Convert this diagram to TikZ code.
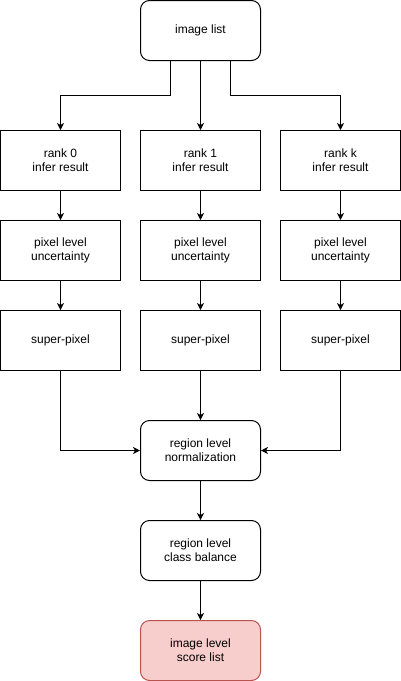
\documentclass[tikz,border=0pt]{standalone}
\usepackage{fontspec}
\setmainfont{Liberation Sans}
\usetikzlibrary{arrows.meta}
\definecolor{redfill}{HTML}{F8CECC}
\definecolor{redline}{HTML}{B85450}
\begin{document}
\begin{tikzpicture}[x=1pt,y=-1pt,
  box/.style={draw=black,line width=1pt,minimum width=120pt,minimum height=60pt,inner sep=0pt,align=center,font=\fontsize{12}{14}\selectfont},
  rbox/.style={box,rounded corners=9pt},
  conn/.style={line width=1pt,-{Stealth[length=7pt,width=7pt,inset=2pt]}}]
\useasboundingbox (0,0) rectangle (401,681);
\node[rbox] (il) at (200.5,30.5) {image list};
\node[box] (r0) at (60.5,160.5) {rank 0\\infer result};
\node[box] (r1) at (200.5,160.5) {rank 1\\infer result};
\node[box] (rk) at (340.5,160.5) {rank k\\infer result};
\node[box] (p0) at (60.5,250.5) {pixel level\\uncertainty};
\node[box] (p1) at (200.5,250.5) {pixel level\\uncertainty};
\node[box] (pk) at (340.5,250.5) {pixel level\\uncertainty};
\node[box] (s0) at (60.5,340.5) {super-pixel};
\node[box] (s1) at (200.5,340.5) {super-pixel};
\node[box] (sk) at (340.5,340.5) {super-pixel};
\node[rbox] (nm) at (200.5,450.5) {region level\\normalization};
\node[rbox] (cb) at (200.5,550.5) {region level\\class balance};
\node[rbox,fill=redfill,draw=redline] (sl) at (200.5,650.5) {image level\\score list};
\coordinate (b0) at (170.5,95.5);
\coordinate (bk) at (230.5,95.5);
\draw[conn] (il.south -| b0) -- (b0) -| (r0.north);
\draw[conn] (il.south) -- (r1.north);
\draw[conn] (il.south -| bk) -- (bk) -| (rk.north);
\foreach \a/\b in {r0/p0,r1/p1,rk/pk,p0/s0,p1/s1,pk/sk,s1/nm,nm/cb,cb/sl}
  \draw[conn] (\a.south) -- (\b.north);
\draw[conn] (s0.south) |- (nm.west);
\draw[conn] (sk.south) |- (nm.east);
\end{tikzpicture}
\end{document}
